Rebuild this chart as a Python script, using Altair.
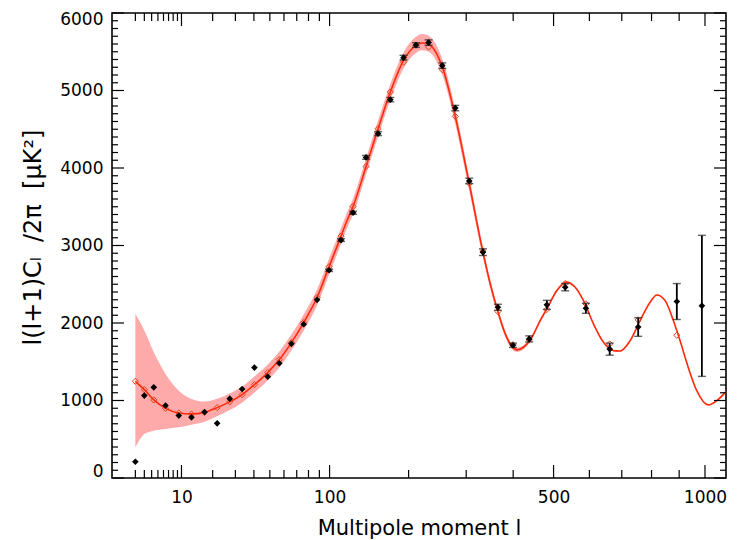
import altair as alt
import pandas as pd

# ---------------- data ----------------
# best-fit model curve: multipole l, D_l, and the shaded (cosmic variance) band
l_model = [2, 3, 4.33, 6.39, 9.32, 12.76, 16.97, 21.79, 27.29, 33.44, 40.3, 48.6, 56.6, 65.7,
           75.8, 87.8, 99.5, 112.0, 118.6, 125.5, 141.1, 156.5, 173.2, 192.4, 211.5, 221.1,
           232.0, 255.6, 279.2, 306.0, 333.7, 349.0, 365.6, 381.9, 397.1, 408.8, 424.3, 444.6,
           465.4, 482.5, 508.8, 533.9, 559.0, 582.8, 612.1, 642.3, 673.4, 694.7, 727.3, 760.7,
           795.0, 818.4, 848.1, 878.4, 903.3, 928.6, 967.4, 1013.4, 1047.6, 1086.0]
cl_model = [1248, 1140, 1007, 899, 839, 827, 847, 908, 982, 1076, 1205, 1360, 1528, 1747,
            2006, 2329, 2727, 3121, 3323, 3504, 4020, 4507, 4980, 5389, 5583, 5613,
            5596, 5303, 4666, 3797, 2914, 2506, 2148, 1860, 1696, 1653, 1687, 1816,
            2032, 2183, 2419, 2526, 2462, 2290, 1989, 1751, 1644, 1638, 1773, 2032,
            2268, 2361, 2290, 2032, 1773, 1489, 1127, 943, 998, 1115]
band_lo = [395, 568, 611, 633, 654, 688, 727, 798, 877, 972, 1102, 1258, 1426, 1645,
           1904, 2227, 2625, 3019, 3221, 3402, 3917, 4404, 4877, 5285, 5483, 5518,
           5501, 5203, 4566, 3710, 2844, 2450, 2103, 1822, 1664, 1625, 1661, 1792,
           2010, 2163, 2401, 2510, 2448, 2278, 1978, 1741, 1635, 1630, 1765, 2025,
           2261, 2355, 2284, 2027, 1768, 1484, 1123, 939, 994, 1111]
band_hi = [2118, 1902, 1622, 1343, 1127, 1020, 987, 1023, 1090, 1182, 1310, 1464, 1632, 1851,
           2110, 2433, 2831, 3225, 3427, 3608, 4125, 4612, 5085, 5495, 5693, 5728,
           5706, 5408, 4766, 3884, 2984, 2562, 2193, 1898, 1728, 1681, 1713, 1840,
           2054, 2203, 2437, 2542, 2476, 2302, 2000, 1761, 1653, 1646, 1781, 2039,
           2275, 2367, 2296, 2037, 1778, 1494, 1131, 947, 1002, 1119]

# measured (binned) spectrum
l_data = [2, 3, 4.33, 6.39, 9.32, 12.76, 16.97, 21.79, 27.29, 33.44, 40.3, 48.6, 56.6, 65.7,
          75.8, 87.8, 99.5, 112.0, 125.5, 141.1, 156.5, 173.2, 192.4, 211.5, 232.0, 255.6,
          279.2, 306.0, 333.7, 365.6, 399.4, 438.1, 482.5, 531.3, 589.8, 661.6, 754.1,
          891.3, 987.6]
cl_data = [210, 1063, 1170, 934, 805, 783, 852, 705, 1024, 1149, 1425, 1308, 1480, 1731,
           1984, 2299, 2680, 3070, 3422, 4137, 4443, 4882, 5424, 5587, 5618, 5321,
           4773, 3833, 2914, 2203, 1713, 1795, 2234, 2462, 2190, 1663, 1948, 2277, 2221]
err_data = [0, 0, 0, 0, 0, 0, 0, 0, 0, 0, 0, 0, 0, 0, 0, 0,
            15, 18, 20, 25, 25, 28, 30, 30, 35, 35, 35, 35, 43, 39, 28, 39, 58, 47, 65,
            78, 120, 232, 910]
# model binned at the data multipoles (open diamonds)
cl_model_binned = [1248, 1140, 1007, 899, 839, 826, 845, 908, 982, 1076, 1205, 1360, 1528,
                   1747, 2006, 2329, 2727, 3121, 3504, 4020, 4507, 4980, 5367, 5583, 5561,
                   5269, 4666, 3800, 2930, 2148, 1720, 1782, 2174, 2510, 2247, 1730, 2040, 1842]

x_major = [10, 100, 500, 1000]
x_minor = [2, 3, 4, 5, 6, 7, 8, 9, 20, 30, 40, 50, 60, 70, 80, 90, 200, 300, 400,
           600, 700, 800, 900]
y_major = [0, 1000, 2000, 3000, 4000, 5000, 6000]
y_minor = [v for v in range(100, 6000, 100) if v % 1000 != 0]

# ---------------- chart ----------------
W, H = 614, 465
FONT = "DejaVu Sans"
NB = "\u00a0"
y_title = "l(l+1)Cₗ" + NB * 2 + "/2π" + NB * 2 + "[μK²]"

xscale = alt.Scale(type="pow", exponent=0.404, domain=[0.427, 1086], nice=False, zero=False)
yscale = alt.Scale(domain=[0, 6000], nice=False, zero=False)

model_df = pd.DataFrame({"l": l_model, "cl": cl_model, "lo": band_lo, "hi": band_hi})
data_df = pd.DataFrame({"l": l_data, "cl": cl_data, "err": err_data})
mpts_df = pd.DataFrame({"l": l_data[:len(cl_model_binned)], "cl": cl_model_binned})

band = alt.Chart(model_df).mark_area(color="#ffaaaa", interpolate="monotone").encode(
    x=alt.X("l:Q", scale=xscale, axis=alt.Axis(
        values=x_major, format="d", title="Multipole moment l", domain=False, ticks=False,
        grid=False, labelPadding=11, labelFlush=False, labelFont=FONT, labelFontSize=17,
        labelColor="black",
        titleFont=FONT, titleFontSize=21, titleFontWeight="normal", titleColor="black",
        titleX=W / 2, titleY=50, titleBaseline="middle", titleAlign="center")),
    y=alt.Y("lo:Q", scale=yscale, axis=alt.Axis(
        values=y_major, format="d", title=y_title, domain=False,
        ticks=False, grid=False, labelPadding=9, labelFlush=True, labelFlushOffset=2,
        labelFont=FONT, labelFontSize=17, labelColor="black",
        titleFont=FONT, titleFontSize=24, titleFontWeight="normal", titleColor="black",
        titleX=-79, titleY=224, titleAngle=270, titleBaseline="middle", titleAlign="center")),
    y2="hi:Q",
)

line = alt.Chart(model_df).mark_line(color="#ff2a0a", strokeWidth=1.6, interpolate="monotone").encode(
    x=alt.X("l:Q", scale=xscale, axis=None),
    y=alt.Y("cl:Q", scale=yscale, axis=None),
)

mpts = alt.Chart(mpts_df).mark_point(shape="diamond", filled=False, color="#e0401a",
                                     strokeWidth=1, size=38, opacity=1).encode(
    x=alt.X("l:Q", scale=xscale, axis=None),
    y=alt.Y("cl:Q", scale=yscale, axis=None),
)

err_base = alt.Chart(data_df).transform_filter("datum.err > 10").transform_calculate(
    lo="datum.cl - datum.err", hi="datum.cl + datum.err")
err_rule = err_base.mark_rule(color="black", strokeWidth=1.8).encode(
    x=alt.X("l:Q", scale=xscale, axis=None),
    y=alt.Y("lo:Q", scale=yscale, axis=None),
    y2="hi:Q",
)
cap_lo = err_base.mark_tick(orient="horizontal", color="#222222", size=8, thickness=1.4).encode(
    x=alt.X("l:Q", scale=xscale, axis=None),
    y=alt.Y("lo:Q", scale=yscale, axis=None),
)
cap_hi = err_base.mark_tick(orient="horizontal", color="#222222", size=8, thickness=1.4).encode(
    x=alt.X("l:Q", scale=xscale, axis=None),
    y=alt.Y("hi:Q", scale=yscale, axis=None),
)

pts = alt.Chart(data_df).mark_point(shape="diamond", filled=True, color="black",
                                    size=44, opacity=1).encode(
    x=alt.X("l:Q", scale=xscale, axis=None),
    y=alt.Y("cl:Q", scale=yscale, axis=None),
)


def xticks(vals, length, top):
    df = pd.DataFrame({"v": vals})
    if top:
        yy, yy2 = alt.value(0), alt.value(length)
    else:
        yy, yy2 = alt.value(H), alt.value(H - length)
    return alt.Chart(df).mark_rule(color="black", strokeWidth=1.2).encode(
        x=alt.X("v:Q", scale=xscale, axis=None), y=yy, y2=yy2)


def yticks(vals, length, right):
    df = pd.DataFrame({"v": vals})
    if right:
        xx, xx2 = alt.value(W), alt.value(W - length)
    else:
        xx, xx2 = alt.value(0), alt.value(length)
    return alt.Chart(df).mark_rule(color="black", strokeWidth=1.2).encode(
        y=alt.Y("v:Q", scale=yscale, axis=None), x=xx, x2=xx2)


ticks = [
    xticks(x_minor, 8, False), xticks(x_major, 13, False),
    xticks(x_minor, 8, True), xticks(x_major, 13, True),
    yticks(y_minor, 6, False), yticks(y_major, 12, False),
    yticks(y_minor, 6, True), yticks(y_major, 12, True),
]

chart = alt.layer(band, line, mpts, err_rule, cap_lo, cap_hi, pts, *ticks).resolve_axis(
    x="independent", y="independent"
).properties(
    width=W, height=H,
    autosize=alt.AutoSizeParams(type="none"),
    padding={"left": 104, "top": 5, "right": 6, "bottom": 62},
    background="white",
).configure_view(stroke="black", strokeWidth=1.6)

chart.save("out.html", embed_options={"renderer": "svg", "actions": False})
